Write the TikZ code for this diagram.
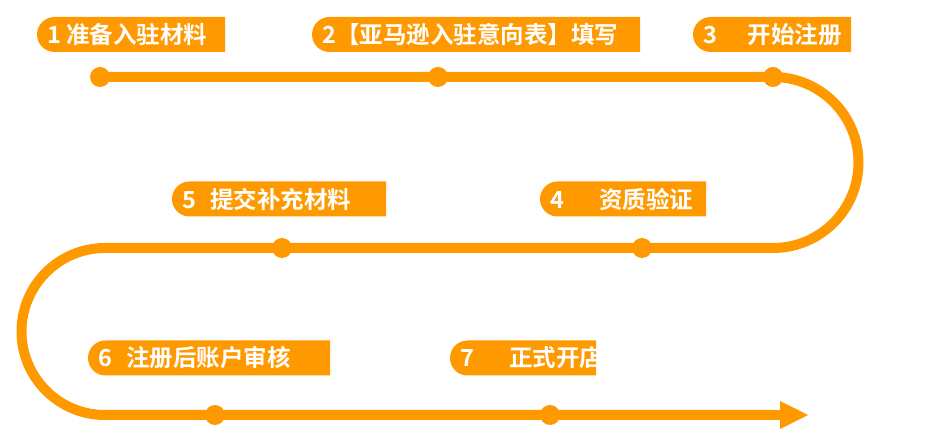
\documentclass[tikz,border=0pt]{standalone}
\usepackage{fontspec}
\setmainfont{Noto Sans CJK SC}[BoldFont={* Bold}]
\definecolor{og}{HTML}{FF9900}
\begin{document}
\begin{tikzpicture}[x=1pt,y=1pt,
  lbl/.style={anchor=west,text=white,font=\fontsize{23.5}{25}\selectfont\bfseries,inner sep=0pt},
  dot/.style={circle,fill=og,minimum size=20pt,inner sep=0pt}]
\useasboundingbox (0,0) rectangle (929,444);
\newcommand\lab[5]{% name, x1, x2, yc, text
  \begin{scope}
  \fill[og] (#2+17.5,#4-17.5) -- (#3,#4-17.5) -- (#3,#4+17.5) -- (#2+17.5,#4+17.5) arc[start angle=90,end angle=270,radius=17.5];
  \clip (#2,#4-17.5) rectangle (#3,#4+17.5);
  \node[lbl] (#1) at (#2+10,#4) {#5};
  \end{scope}}
\lab{l1}{37}{225}{409.5}{1 准备入驻材料}
\lab{l2}{312}{640}{409.5}{2【亚马逊入驻意向表】填写}
\lab{l3}{693}{851}{409.5}{3\hspace{1.3em}开始注册}
\lab{l5}{172}{386}{245}{5\hspace{0.6em}提交补充材料}
\lab{l4}{540}{706}{245}{4\hspace{1.5em}资质验证}
\lab{l6}{88}{330}{86}{6\hspace{0.6em}注册后账户审核}
\lab{l7}{450}{596}{86}{7\hspace{1.5em}正式开店}
\coordinate (s) at (100,367);
\coordinate (e) at (808,29);
\draw[og,line width=10pt,line join=round] (s) -- (773,367) arc[start angle=90,end angle=-90,radius=85.5] -- (105,196) arc[start angle=90,end angle=270,radius=83.5] -- (785,29);
\fill[og] (e) -- (780,43) -- (780,15) -- cycle;
\foreach \n/\x/\y in {d1/100/367,d2/438/367,d3/773/367,d4/642/196,d5/282/196,d6/215/29,d7/550/29}
  \node[dot] (\n) at (\x,\y) {};
\end{tikzpicture}
\end{document}
